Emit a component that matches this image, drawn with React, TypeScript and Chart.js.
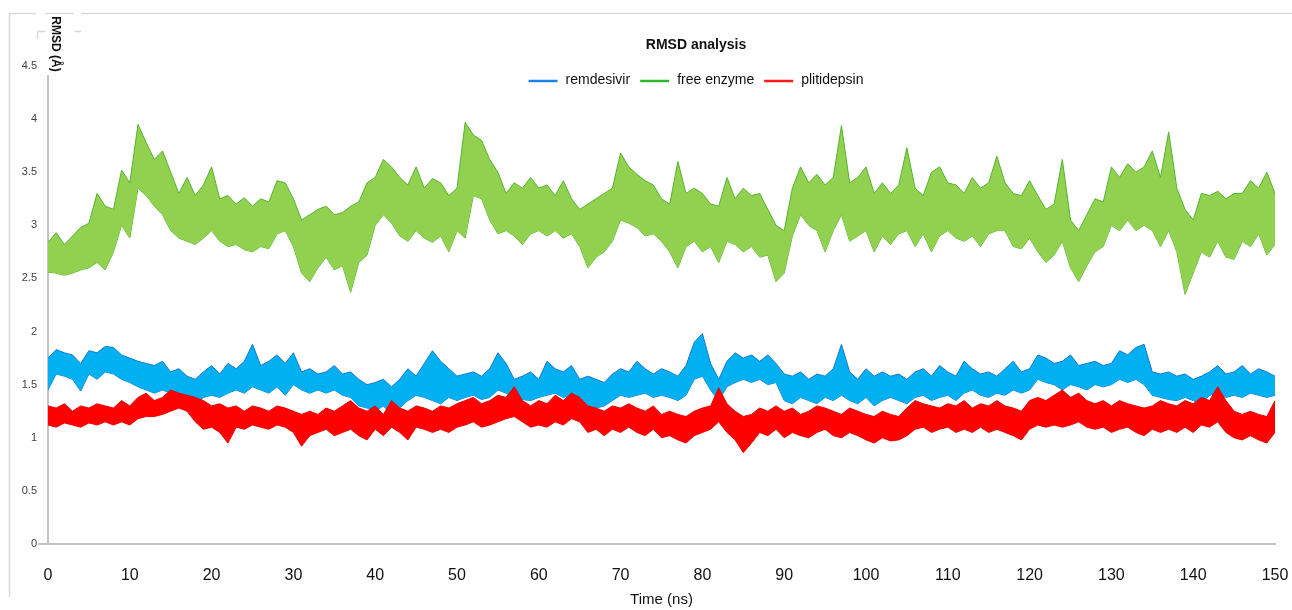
import React, { useEffect, useRef } from "react";
import { Chart, registerables } from "chart.js";

Chart.register(...registerables);

const FONT = "'Liberation Sans', Arial, Helvetica, sans-serif";
const CHART_TITLE = "RMSD analysis";
const X_AXIS_TITLE = "Time (ns)";
const Y_AXIS_TITLE = "RMSD (Å)";
const SERIES_NAMES = ["remdesivir", "free enzyme", "plitidepsin"];

const TIME_STEP_NS = 1;
const X_MIN = 0;
const X_MAX = 150;
const X_STEP = 10;
const Y_MIN = 0;
const Y_MAX = 4.5;
const Y_STEP = 0.5;

// Upper / lower envelope of each RMSD trace (Å), one value per ns, 0..150 ns
const REMDESIVIR_HIGH = [
  1.75, 1.83, 1.80, 1.78, 1.70, 1.82, 1.80, 1.86, 1.85, 1.78,
  1.75, 1.72, 1.70, 1.68, 1.72, 1.62, 1.65, 1.58, 1.55, 1.62,
  1.68, 1.60, 1.70, 1.65, 1.72, 1.88, 1.68, 1.72, 1.78, 1.70,
  1.80, 1.62, 1.65, 1.60, 1.62, 1.68, 1.60, 1.62, 1.55, 1.50,
  1.52, 1.55, 1.48, 1.55, 1.65, 1.58, 1.70, 1.82, 1.72, 1.65,
  1.58, 1.60, 1.62, 1.58, 1.65, 1.80, 1.70, 1.55, 1.58, 1.62,
  1.55, 1.72, 1.65, 1.62, 1.68, 1.55, 1.58, 1.55, 1.52, 1.60,
  1.65, 1.62, 1.72, 1.65, 1.60, 1.65, 1.62, 1.58, 1.68, 1.90,
  1.98, 1.70, 1.55, 1.72, 1.80, 1.75, 1.78, 1.72, 1.78, 1.70,
  1.60, 1.58, 1.62, 1.55, 1.60, 1.58, 1.65, 1.88, 1.62, 1.55,
  1.65, 1.58, 1.62, 1.58, 1.60, 1.55, 1.62, 1.65, 1.58, 1.68,
  1.62, 1.58, 1.72, 1.65, 1.60, 1.62, 1.58, 1.65, 1.72, 1.62,
  1.65, 1.78, 1.75, 1.70, 1.72, 1.78, 1.68, 1.70, 1.72, 1.68,
  1.70, 1.82, 1.78, 1.85, 1.88, 1.62, 1.60, 1.62, 1.58, 1.60,
  1.55, 1.58, 1.62, 1.68, 1.60, 1.62, 1.68, 1.60, 1.65, 1.62, 1.58,
];
const REMDESIVIR_LOW = [
  1.45, 1.60, 1.58, 1.55, 1.44, 1.60, 1.55, 1.62, 1.60, 1.55,
  1.52, 1.48, 1.45, 1.42, 1.45, 1.42, 1.40, 1.35, 1.30, 1.38,
  1.40, 1.38, 1.42, 1.45, 1.42, 1.48, 1.45, 1.42, 1.48, 1.40,
  1.50, 1.45, 1.42, 1.45, 1.42, 1.45, 1.40, 1.38, 1.30, 1.28,
  1.25, 1.30, 1.22, 1.28, 1.35, 1.40, 1.38, 1.35, 1.32, 1.38,
  1.35, 1.38, 1.40, 1.36, 1.38, 1.45, 1.42, 1.38, 1.36, 1.35,
  1.38, 1.40, 1.42, 1.38, 1.40, 1.32, 1.30, 1.28, 1.30, 1.35,
  1.40, 1.38, 1.40, 1.42, 1.38, 1.40, 1.38, 1.35, 1.40, 1.55,
  1.58, 1.45, 1.35, 1.48, 1.52, 1.55, 1.52, 1.55, 1.50, 1.52,
  1.35, 1.32, 1.38, 1.35, 1.32, 1.38, 1.35, 1.40, 1.35, 1.32,
  1.38, 1.30, 1.35, 1.38, 1.35, 1.32, 1.38, 1.40, 1.35, 1.38,
  1.40, 1.35, 1.42, 1.45, 1.40, 1.38, 1.42, 1.40, 1.45, 1.42,
  1.45, 1.55, 1.52, 1.50, 1.45, 1.50, 1.48, 1.45, 1.50, 1.48,
  1.50, 1.55, 1.52, 1.55, 1.50, 1.40, 1.38, 1.36, 1.35, 1.38,
  1.35, 1.32, 1.40, 1.42, 1.38, 1.40, 1.38, 1.42, 1.40, 1.38, 1.40,
];
const FREE_ENZYME_HIGH = [
  2.84, 2.93, 2.82, 2.90, 2.98, 3.02, 3.30, 3.18, 3.15, 3.52,
  3.40, 3.95, 3.78, 3.62, 3.70, 3.50, 3.30, 3.45, 3.28, 3.38,
  3.55, 3.25, 3.28, 3.20, 3.26, 3.18, 3.25, 3.22, 3.42, 3.40,
  3.25, 3.05, 3.10, 3.15, 3.18, 3.10, 3.12, 3.18, 3.22, 3.40,
  3.45, 3.62, 3.55, 3.45, 3.38, 3.55, 3.35, 3.44, 3.40, 3.28,
  3.35, 3.97, 3.85, 3.80, 3.62, 3.50, 3.30, 3.40, 3.35, 3.45,
  3.35, 3.38, 3.28, 3.42, 3.25, 3.15, 3.20, 3.25, 3.30, 3.35,
  3.68, 3.55, 3.48, 3.42, 3.38, 3.25, 3.20, 3.60, 3.30, 3.35,
  3.30, 3.20, 3.18, 3.45, 3.25, 3.35, 3.28, 3.30, 3.15, 3.00,
  2.95, 3.35, 3.55, 3.40, 3.48, 3.38, 3.45, 3.94, 3.40, 3.45,
  3.55, 3.30, 3.40, 3.30, 3.38, 3.73, 3.35, 3.28, 3.50, 3.55,
  3.40, 3.38, 3.30, 3.45, 3.35, 3.40, 3.65, 3.40, 3.30, 3.28,
  3.42, 3.28, 3.15, 3.20, 3.62, 3.05, 2.95, 3.10, 3.25, 3.22,
  3.55, 3.45, 3.58, 3.50, 3.55, 3.70, 3.45, 3.88, 3.35, 3.15,
  3.05, 3.30, 3.28, 3.32, 3.25, 3.30, 3.30, 3.42, 3.35, 3.50, 3.30,
];
const FREE_ENZYME_LOW = [
  2.56, 2.55, 2.53, 2.55, 2.58, 2.60, 2.65, 2.58, 2.75, 3.00,
  2.88, 3.35, 3.28, 3.18, 3.10, 2.95, 2.88, 2.85, 2.82, 2.88,
  2.95, 2.85, 2.80, 2.82, 2.77, 2.75, 2.80, 2.78, 2.92, 2.95,
  2.80, 2.55, 2.47, 2.60, 2.70, 2.58, 2.62, 2.37, 2.65, 2.72,
  3.00, 3.10, 3.02, 2.90, 2.85, 2.95, 2.88, 2.84, 2.90, 2.75,
  2.95, 2.88, 3.28, 3.25, 3.05, 2.92, 2.95, 2.90, 2.82, 2.92,
  2.95, 2.90, 2.95, 2.88, 2.92, 2.80, 2.60, 2.70, 2.75, 2.85,
  3.05, 3.02, 2.98, 2.90, 2.92, 2.85, 2.75, 2.60, 2.80, 2.85,
  2.75, 2.80, 2.65, 2.85, 2.82, 2.75, 2.80, 2.70, 2.72, 2.47,
  2.55, 2.90, 3.10, 3.00, 2.95, 2.75, 2.95, 3.10, 2.85, 2.90,
  2.95, 2.75, 2.90, 2.82, 2.92, 2.95, 2.80, 2.92, 2.75, 2.90,
  2.95, 2.88, 2.85, 2.90, 2.80, 2.92, 2.95, 2.95, 2.80, 2.78,
  2.88, 2.75, 2.65, 2.72, 2.85, 2.60, 2.47, 2.62, 2.75, 2.80,
  3.00, 2.95, 3.05, 2.95, 3.00, 2.95, 2.80, 2.95, 2.75, 2.35,
  2.55, 2.75, 2.70, 2.85, 2.70, 2.68, 2.85, 2.80, 2.92, 2.72, 2.82,
];
const PLITIDEPSIN_HIGH = [
  1.30, 1.28, 1.32, 1.25, 1.30, 1.28, 1.32, 1.30, 1.28, 1.35,
  1.30, 1.38, 1.42, 1.35, 1.38, 1.45, 1.42, 1.40, 1.38, 1.35,
  1.30, 1.32, 1.28, 1.30, 1.25, 1.30, 1.28, 1.25, 1.30, 1.28,
  1.25, 1.22, 1.25, 1.22, 1.28, 1.25, 1.30, 1.35, 1.28, 1.25,
  1.30, 1.22, 1.35, 1.28, 1.25, 1.30, 1.28, 1.25, 1.30, 1.28,
  1.32, 1.35, 1.38, 1.32, 1.35, 1.40, 1.38, 1.48, 1.35, 1.30,
  1.35, 1.32, 1.40, 1.35, 1.42, 1.38, 1.30, 1.28, 1.25, 1.30,
  1.28, 1.32, 1.28, 1.25, 1.30, 1.22, 1.25, 1.22, 1.20, 1.25,
  1.28, 1.30, 1.47, 1.32, 1.25, 1.20, 1.22, 1.28, 1.25, 1.30,
  1.25, 1.28, 1.22, 1.25, 1.30, 1.28, 1.25, 1.22, 1.28, 1.25,
  1.22, 1.20, 1.25, 1.22, 1.20, 1.28, 1.35, 1.32, 1.30, 1.28,
  1.32, 1.30, 1.35, 1.28, 1.32, 1.30, 1.35, 1.30, 1.28, 1.25,
  1.35, 1.38, 1.35, 1.40, 1.45, 1.38, 1.42, 1.35, 1.32, 1.35,
  1.30, 1.35, 1.32, 1.30, 1.28, 1.30, 1.35, 1.32, 1.30, 1.35,
  1.32, 1.38, 1.35, 1.48, 1.35, 1.25, 1.22, 1.25, 1.22, 1.20, 1.35,
];
const PLITIDEPSIN_LOW = [
  1.12, 1.10, 1.14, 1.12, 1.10, 1.14, 1.12, 1.15, 1.12, 1.15,
  1.12, 1.18, 1.20, 1.20, 1.22, 1.25, 1.28, 1.25, 1.15, 1.08,
  1.10, 1.05, 0.95, 1.10, 1.08, 1.12, 1.10, 1.08, 1.12, 1.10,
  1.05, 0.92, 1.02, 1.05, 1.08, 1.02, 1.05, 1.08, 1.02, 0.98,
  1.08, 1.02, 1.10, 1.05, 0.98, 1.10, 1.08, 1.05, 1.08, 1.05,
  1.10, 1.12, 1.15, 1.10, 1.12, 1.15, 1.18, 1.20, 1.15, 1.10,
  1.12, 1.10, 1.15, 1.12, 1.18, 1.15, 1.05, 1.08, 1.02, 1.08,
  1.05, 1.10, 1.05, 1.02, 1.08, 1.00, 1.02, 0.98, 0.95, 1.02,
  1.05, 1.08, 1.15, 1.05, 0.98, 0.86, 0.95, 1.05, 1.02, 1.08,
  1.00, 1.05, 1.02, 1.00, 1.05, 1.08, 1.02, 1.00, 1.05, 1.02,
  0.98, 0.95, 1.00, 0.97, 0.98, 1.02, 1.08, 1.10, 1.05, 1.08,
  1.10, 1.05, 1.08, 1.05, 1.10, 1.05, 1.08, 1.05, 1.02, 0.98,
  1.08, 1.12, 1.10, 1.12, 1.10, 1.12, 1.15, 1.10, 1.08, 1.10,
  1.05, 1.08, 1.10, 1.05, 1.02, 1.08, 1.05, 1.08, 1.05, 1.10,
  1.05, 1.12, 1.10, 1.15, 1.05, 1.00, 0.98, 1.02, 0.98, 0.95, 1.05,
];

// Styles (kept apart from the data)
const SERIES_STYLE = [
  { fill: "#00B0F0", edge: "#1577D6", legend: "#1C86E8", order: 2 },
  { fill: "#92D050", edge: "#52B42C", legend: "#2DB82D", order: 3 },
  { fill: "#FF0000", edge: "#EE0000", legend: "#FF1A1A", order: 1 },
];
const SERIES_DATA = [
  [REMDESIVIR_HIGH, REMDESIVIR_LOW],
  [FREE_ENZYME_HIGH, FREE_ENZYME_LOW],
  [PLITIDEPSIN_HIGH, PLITIDEPSIN_LOW],
];

const toPoints = (vals: number[]) => vals.map((y, i) => ({ x: X_MIN + i * TIME_STEP_NS, y }));

const AXIS_COLOR = "#C4C4C4";

const decorPlugin = {
  id: "decor",
  beforeDraw(chart: any) {
    const ctx = chart.ctx as CanvasRenderingContext2D;
    ctx.save();
    ctx.strokeStyle = "#D9D9D9";
    ctx.lineWidth = 1.5;
    ctx.beginPath();
    // outer frame (top and left)
    ctx.moveTo(9, 13.5); ctx.lineTo(36, 13.5);
    ctx.moveTo(45, 13.5); ctx.lineTo(74, 13.5);
    ctx.moveTo(81, 13.5); ctx.lineTo(1292, 13.5);
    ctx.moveTo(9.5, 13); ctx.lineTo(9.5, 597);
    // small bracket remnants
    ctx.moveTo(37.5, 39); ctx.lineTo(37.5, 31.5); ctx.lineTo(45, 31.5);
    ctx.moveTo(75, 31.5); ctx.lineTo(81, 31.5);
    ctx.stroke();
    ctx.restore();
  },
  beforeDatasetsDraw(chart: any) {
    const ctx = chart.ctx as CanvasRenderingContext2D;
    const area = chart.chartArea;
    ctx.save();
    ctx.strokeStyle = AXIS_COLOR;
    ctx.lineWidth = 2;
    ctx.beginPath();
    // y axis line (starts a little below the top tick)
    ctx.moveTo(area.left, 75);
    ctx.lineTo(area.left, area.bottom);
    // x axis line extension to the left
    ctx.moveTo(38, area.bottom);
    ctx.lineTo(area.left, area.bottom);
    ctx.stroke();
    ctx.restore();
  },
  afterDraw(chart: any) {
    const ctx = chart.ctx as CanvasRenderingContext2D;
    ctx.save();
    // title
    ctx.fillStyle = "#111";
    ctx.font = `bold 14px ${FONT}`;
    ctx.textAlign = "center";
    ctx.textBaseline = "middle";
    ctx.fillText(CHART_TITLE, 696, 45);

    // legend
    ctx.font = `14px ${FONT}`;
    const swatch = 29;
    const gap = 8;
    const spacing = 10;
    const widths = SERIES_NAMES.map((n) => ctx.measureText(n).width);
    const total = widths.reduce((a, w) => a + swatch + gap + w, 0) + spacing * (SERIES_NAMES.length - 1);
    let x = 696 - total / 2;
    const ly = 80;
    SERIES_NAMES.forEach((name, i) => {
      ctx.strokeStyle = SERIES_STYLE[i].legend;
      ctx.lineWidth = 2.5;
      ctx.beginPath();
      ctx.moveTo(x, ly + 1);
      ctx.lineTo(x + swatch, ly + 1);
      ctx.stroke();
      ctx.fillStyle = "#111";
      ctx.textAlign = "left";
      ctx.fillText(name, x + swatch + gap, ly);
      x += swatch + gap + widths[i] + spacing;
    });

    // y axis title, rotated clockwise
    ctx.translate(55, 44);
    ctx.rotate(Math.PI / 2);
    ctx.font = `bold 12px ${FONT}`;
    ctx.textAlign = "center";
    ctx.fillStyle = "#111";
    ctx.fillText(Y_AXIS_TITLE, 0, 0);
    ctx.restore();
  },
};

export default function App() {
  const ref = useRef<HTMLCanvasElement>(null);

  useEffect(() => {
    const datasets: any[] = [];
    SERIES_NAMES.forEach((name, i) => {
      const st = SERIES_STYLE[i];
      const [hi, lo] = SERIES_DATA[i];
      datasets.push({
        label: name,
        data: toPoints(hi),
        borderColor: st.edge,
        backgroundColor: st.fill,
        borderWidth: 1,
        pointRadius: 0,
        tension: 0,
        fill: "+1",
        order: st.order,
      });
      datasets.push({
        label: name + " (min)",
        data: toPoints(lo),
        borderColor: st.edge,
        backgroundColor: st.fill,
        borderWidth: 1,
        pointRadius: 0,
        tension: 0,
        fill: false,
        order: st.order,
      });
    });

    const chart = new Chart(ref.current as HTMLCanvasElement, {
      type: "line",
      data: { datasets },
      options: {
        responsive: false,
        animation: false,
        devicePixelRatio: 1,
        layout: { padding: { top: 66, right: 17, left: 0, bottom: 0 } },
        plugins: {
          legend: { display: false },
          title: { display: false },
          tooltip: { enabled: false },
        },
        scales: {
          x: {
            type: "linear",
            min: X_MIN,
            max: X_MAX,
            afterFit: (s: any) => {
              s.height = 66;
              s.paddingLeft = 0;
              s.paddingRight = 0;
            },
            grid: { display: false, drawTicks: false },
            border: { display: true, color: AXIS_COLOR, width: 2 },
            ticks: {
              stepSize: X_STEP,
              padding: 22,
              color: "#111",
              font: { family: FONT, size: 16 },
              callback: (v: any) => String(v),
            },
            title: {
              display: true,
              text: X_AXIS_TITLE,
              color: "#111",
              font: { family: FONT, size: 15 },
              padding: { top: 0, bottom: 1 },
            },
          },
          y: {
            type: "linear",
            min: Y_MIN,
            max: Y_MAX,
            afterFit: (s: any) => { s.width = 48; },
            grid: { display: false, drawTicks: false },
            border: { display: false },
            ticks: {
              stepSize: Y_STEP,
              padding: 11,
              color: "#404040",
              font: { family: FONT, size: 11 },
              callback: (v: any) => String(v),
            },
          },
        },
      },
      plugins: [decorPlugin],
    });
    return () => chart.destroy();
  }, []);

  return (
    <div style={{ position: "absolute", left: 0, top: 0, width: 1292, height: 610, background: "#fff" }}>
      <canvas ref={ref} width={1292} height={610} style={{ display: "block" }} />
    </div>
  );
}
